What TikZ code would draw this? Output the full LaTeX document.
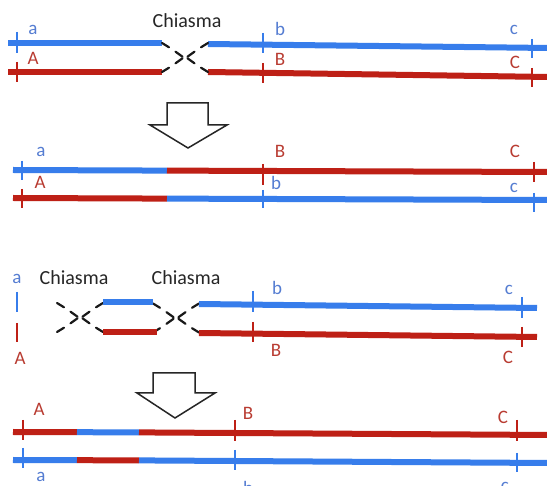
\documentclass[tikz,border=0pt]{standalone}
\usepackage{fontspec}
\setmainfont{Carlito}
\definecolor{cblue}{RGB}{55,125,235}
\definecolor{cred}{RGB}{190,32,22}
\definecolor{lblue}{RGB}{85,125,210}
\definecolor{lred}{RGB}{185,60,50}
\tikzset{
  chromo/.style={line width=6pt},
  tickmark/.style={line width=1.8pt},
  lab/.style={font=\fontsize{19}{19}\selectfont, inner sep=0pt},
  chitext/.style={font=\fontsize{20}{20}\selectfont, inner sep=0pt, text=black!85},
  chidash/.style={line width=2.2pt, black!90, line cap=round},
  hollow/.style={draw=black!85, line width=1.5pt, fill=white, line join=miter},
  chiasma/.pic={
    \foreach \sx in {-1,1}{
      \foreach \sy in {-1,1}{
        \draw[chidash] (\sx*23,\sy*14.5) -- (\sx*16,\sy*10.2);
        \draw[chidash] (\sx*9.5,\sy*5.8) -- (\sx*2.5,\sy*0.8);
      }
    }
  }
}
\begin{document}
\begin{tikzpicture}[x=1pt,y=-1pt]
\useasboundingbox (0,0) rectangle (547,486);
\clip (0,0) rectangle (547,486);
\fill[white] (0,0) rectangle (547,486);

% ---------- Panel 1 ----------
\coordinate (p1bL) at (8,43);   \coordinate (p1bM) at (162,43);
\coordinate (p1bN) at (208,44); \coordinate (p1bR) at (549,48);
\coordinate (p1rL) at (8,72);   \coordinate (p1rM) at (162,72);
\coordinate (p1rN) at (208,72); \coordinate (p1rR) at (549,77);
\draw[chromo,cblue] (p1bL) -- (p1bM);
\draw[chromo,cblue] (p1bN) -- (p1bR);
\draw[chromo,cred] (p1rL) -- (p1rM);
\draw[chromo,cred] (p1rN) -- (p1rR);
\pic at (185,57.5) {chiasma};
\draw[tickmark,cblue] (17,32) -- (17,53);
\draw[tickmark,cred] (17,62) -- (17,82);
\draw[tickmark,cblue] (263,33) -- (263,53);
\draw[tickmark,cred] (263,63) -- (263,83);
\draw[tickmark,cblue] (532,39) -- (532,58);
\draw[tickmark,cred] (532,68) -- (532,87);
\node[chitext] (p1chi) at (187,21) {Chiasma};
\node[lab,text=lblue] (p1a) at (33,30) {a};
\node[lab,text=lred] (p1A) at (33,58) {A};
\node[lab,text=lblue] (p1b) at (280,29) {b};
\node[lab,text=lred] (p1B) at (280,59) {B};
\node[lab,text=lblue] (p1c) at (514,30) {c};
\node[lab,text=lred] (p1C) at (515,62) {C};

% ---------- Arrow 1 ----------
\draw[hollow] (167,103) -- (208,103) -- (208,125) -- (227,125) -- (188,148)
  -- (150,125) -- (167,125) -- cycle;

% ---------- Panel 2 ----------
\coordinate (p2uL) at (13,170); \coordinate (p2uM) at (167,170.6); \coordinate (p2uR) at (549,172);
\coordinate (p2lL) at (13,198); \coordinate (p2lM) at (167,198.6); \coordinate (p2lR) at (549,200);
\draw[chromo,cblue] (p2uL) -- (p2uM);
\draw[chromo,cred] (p2uM) -- (p2uR);
\draw[chromo,cred] (p2lL) -- (p2lM);
\draw[chromo,cblue] (p2lM) -- (p2lR);
\draw[tickmark,cblue] (22,161) -- (22,180);
\draw[tickmark,cred] (22,189) -- (22,208);
\draw[tickmark,cred] (263,164) -- (263,185);
\draw[tickmark,cblue] (263,190) -- (263,208);
\draw[tickmark,cred] (534,162) -- (534,182);
\draw[tickmark,cblue] (534,193) -- (534,212);
\node[lab,text=lblue] (p2a) at (41,152) {a};
\node[lab,text=lred] (p2A) at (40,182) {A};
\node[lab,text=lred] (p2B) at (280,151) {B};
\node[lab,text=lblue] (p2b) at (276,183) {b};
\node[lab,text=lred] (p2C) at (515,151) {C};
\node[lab,text=lblue] (p2c) at (514,188) {c};

% ---------- Panel 3 ----------
\node[lab,text=lblue] (p3a) at (17,279) {a};
\node[lab,text=lred] (p3A) at (20,358) {A};
\draw[tickmark,cblue] (17,292) -- (17,312);
\draw[tickmark,cred] (17,323) -- (17,342);
\node[chitext] (p3chi1) at (74,278) {Chiasma};
\node[chitext] (p3chi2) at (186,278) {Chiasma};
\pic at (80,317.5) {chiasma};
\pic at (176,318) {chiasma};
\coordinate (p3bmL) at (103,302); \coordinate (p3bmR) at (153,302);
\coordinate (p3rmL) at (103,332); \coordinate (p3rmR) at (157,332);
\draw[chromo,cblue] (p3bmL) -- (p3bmR);
\draw[chromo,cred] (p3rmL) -- (p3rmR);
\coordinate (p3bL) at (199,304); \coordinate (p3bR) at (537,308);
\coordinate (p3rL) at (199,333); \coordinate (p3rR) at (537,337);
\draw[chromo,cblue] (p3bL) -- (p3bR);
\draw[chromo,cred] (p3rL) -- (p3rR);
\draw[tickmark,cblue] (253,291) -- (253,312);
\draw[tickmark,cred] (253,322) -- (253,342);
\draw[tickmark,cblue] (522,297) -- (522,318);
\draw[tickmark,cred] (522,327) -- (522,347);
\node[lab,text=lblue] (p3b) at (277,288) {b};
\node[lab,text=lblue] (p3c) at (509,290) {c};
\node[lab,text=lred] (p3B) at (276,350) {B};
\node[lab,text=lred] (p3C) at (508,357) {C};

% ---------- Arrow 2 ----------
\draw[hollow] (153,373) -- (195,373) -- (195,393) -- (215,393) -- (175,418)
  -- (137,393) -- (153,393) -- cycle;

% ---------- Panel 4 ----------
\coordinate (p4uL) at (13,432); \coordinate (p4u1) at (77,432.2);
\coordinate (p4u2) at (139,432.4); \coordinate (p4uR) at (549,435);
\coordinate (p4lL) at (13,460); \coordinate (p4l1) at (77,460.2);
\coordinate (p4l2) at (139,460.4); \coordinate (p4lR) at (549,463);
\draw[chromo,cred] (p4uL) -- (p4u1);
\draw[chromo,cblue] (p4u1) -- (p4u2);
\draw[chromo,cred] (p4u2) -- (p4uR);
\draw[chromo,cblue] (p4lL) -- (p4l1);
\draw[chromo,cred] (p4l1) -- (p4l2);
\draw[chromo,cblue] (p4l2) -- (p4lR);
\draw[tickmark,cred] (23,420) -- (23,440);
\draw[tickmark,cblue] (23,448) -- (23,468);
\draw[tickmark,cred] (235,420) -- (235,441);
\draw[tickmark,cblue] (235,450) -- (235,470);
\draw[tickmark,cred] (517,420) -- (517,441);
\draw[tickmark,cblue] (517,453) -- (517,472);
\node[lab,text=lred] (p4A) at (39,409) {A};
\node[lab,text=lred] (p4B) at (248,413) {B};
\node[lab,text=lred] (p4C) at (503,417) {C};
\node[lab,text=lblue] (p4a) at (41,477) {a};
\node[lab,text=lblue] (p4b) at (248,488) {b};
\node[lab,text=lblue] (p4c) at (505,487) {c};
\end{tikzpicture}
\end{document}
